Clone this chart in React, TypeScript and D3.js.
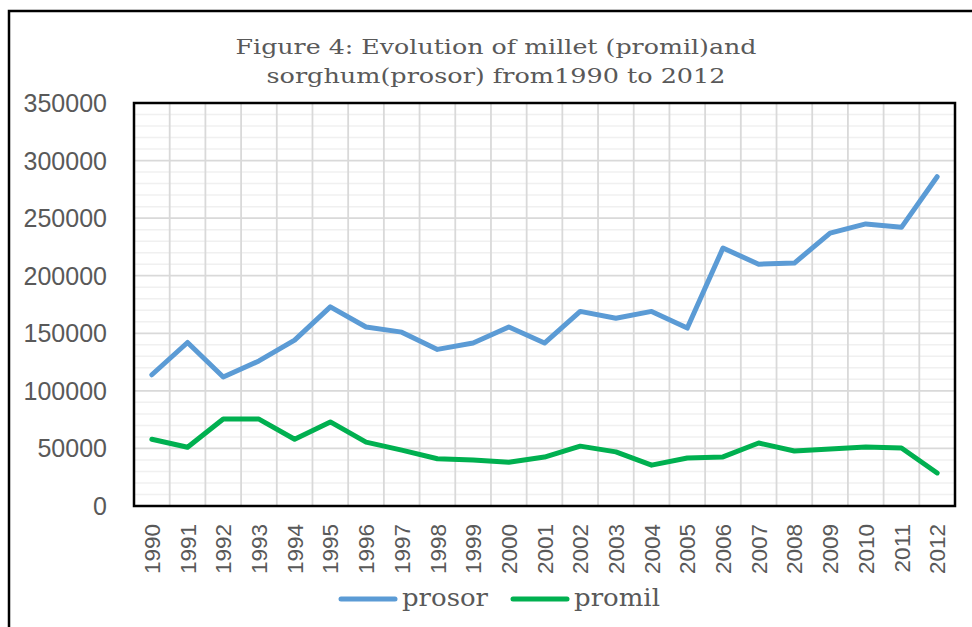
import { useEffect, useRef } from 'react'
import * as d3 from 'd3'

const years = [
  '1990', '1991', '1992', '1993', '1994', '1995', '1996', '1997', '1998', '1999', '2000', '2001',
  '2002', '2003', '2004', '2005', '2006', '2007', '2008', '2009', '2010', '2011', '2012',
]
const prosor = [
  114000, 142000, 112000, 126000, 144000, 173000, 155500, 151000, 136000, 141500, 155500, 141500,
  169000, 163000, 169000, 154500, 224000, 210000, 211000, 237000, 245000, 242000, 286000,
]
const promil = [
  58000, 51000, 75500, 75500, 58000, 73000, 55500, 48500, 41000, 40000, 38000, 42500,
  52000, 47000, 35500, 41700, 42600, 54700, 47800, 49500, 51200, 50400, 28700,
]
const yTicks = [0, 50000, 100000, 150000, 200000, 250000, 300000, 350000]
const titleLines = ['Figure 4: Evolution of millet (promil)and', 'sorghum(prosor) from1990 to 2012']

const App = () => {
  const ref = useRef<SVGSVGElement>(null)

  useEffect(() => {
    const w = 972
    const h = 627
    const left = 134, right = 955, top = 103, bottom = 506
    const svg = d3.select(ref.current).attr('width', w).attr('height', h)
    svg.selectAll('*').remove()

    svg.append('rect').attr('width', w).attr('height', h).attr('fill', '#fff')
    // outer frame
    svg.append('rect')
      .attr('x', 9).attr('y', 11).attr('width', w).attr('height', h)
      .attr('fill', 'none').attr('stroke', '#000').attr('stroke-width', 2.5)

    const x = d3.scaleBand().domain(years).range([left, right]).padding(0)
    const y = d3.scaleLinear().domain([0, 350000]).range([bottom, top])

    // minor grid
    svg.append('g').selectAll('line')
      .data(d3.range(0, 350001, 10000).filter(v => v % 50000 !== 0))
      .join('line')
      .attr('x1', left).attr('x2', right)
      .attr('y1', d => y(d)).attr('y2', d => y(d))
      .attr('stroke', '#f0f0f0').attr('stroke-width', 1.5)

    // major grid
    svg.append('g').selectAll('line')
      .data(yTicks)
      .join('line')
      .attr('x1', left).attr('x2', right)
      .attr('y1', d => y(d)).attr('y2', d => y(d))
      .attr('stroke', '#d9d9d9').attr('stroke-width', 1.8)

    // vertical grid at category boundaries
    svg.append('g').selectAll('line')
      .data(years.slice(1))
      .join('line')
      .attr('x1', d => x(d)!).attr('x2', d => x(d)!)
      .attr('y1', top).attr('y2', bottom)
      .attr('stroke', '#d9d9d9').attr('stroke-width', 1.8)

    // plot border
    svg.append('rect')
      .attr('x', left).attr('y', top).attr('width', right - left).attr('height', bottom - top)
      .attr('fill', 'none').attr('stroke', '#000').attr('stroke-width', 2.5)

    // y labels
    svg.append('g').selectAll('text')
      .data(yTicks)
      .join('text')
      .attr('x', 107).attr('y', d => y(d))
      .attr('dy', '0.36em')
      .attr('text-anchor', 'end')
      .attr('font-family', 'Liberation Sans, Arial, sans-serif')
      .attr('font-size', 25)
      .attr('fill', '#595959')
      .text(d => String(d))

    // x labels
    svg.append('g').selectAll('text')
      .data(years)
      .join('text')
      .attr('transform', d => `translate(${x(d)! + x.bandwidth() / 2}, 524) rotate(-90)`)
      .attr('dy', '0.36em')
      .attr('text-anchor', 'end')
      .attr('font-family', 'Liberation Sans, Arial, sans-serif')
      .attr('font-size', 22.5)
      .attr('fill', '#595959')
      .text(d => d)

    const line = d3.line<number>()
      .x((_, i) => x(years[i])! + x.bandwidth() / 2)
      .y(d => y(d))

    svg.append('path').datum(prosor).attr('d', line)
      .attr('fill', 'none').attr('stroke', '#5b9bd5').attr('stroke-width', 5)
      .attr('stroke-linecap', 'round').attr('stroke-linejoin', 'round')
    svg.append('path').datum(promil).attr('d', line)
      .attr('fill', 'none').attr('stroke', '#00b050').attr('stroke-width', 5)
      .attr('stroke-linecap', 'round').attr('stroke-linejoin', 'round')

    // title
    svg.append('g').selectAll('text')
      .data(titleLines)
      .join('text')
      .attr('x', 496).attr('y', (_, i) => 47 + i * 29)
      .attr('dy', '0.35em')
      .attr('text-anchor', 'middle')
      .attr('font-family', 'DejaVu Serif, serif')
      .attr('font-size', 21)
      .attr('fill', '#595959')
      .attr('textLength', (_, i) => (i === 0 ? 521 : 459))
      .attr('lengthAdjust', 'spacingAndGlyphs')
      .text(d => d)

    // legend
    const legend = [
      { name: 'prosor', color: '#5b9bd5', x0: 341 },
      { name: 'promil', color: '#00b050', x0: 513 },
    ]
    const lg = svg.append('g')
    lg.selectAll('line')
      .data(legend)
      .join('line')
      .attr('x1', d => d.x0).attr('x2', d => d.x0 + 54)
      .attr('y1', 599).attr('y2', 599)
      .attr('stroke', d => d.color).attr('stroke-width', 5)
      .attr('stroke-linecap', 'round')
    lg.selectAll('text')
      .data(legend)
      .join('text')
      .attr('x', d => d.x0 + 61).attr('y', 599)
      .attr('dy', '0.3em')
      .attr('font-family', 'DejaVu Serif, serif')
      .attr('font-size', 24)
      .attr('fill', '#595959')
      .attr('textLength', 86)
      .attr('lengthAdjust', 'spacingAndGlyphs')
      .text(d => d.name)
  }, [])

  return (
    <div style={{ position: 'absolute', left: 0, top: 0 }}>
      <svg ref={ref} style={{ display: 'block' }}></svg>
    </div>
  )
}

export default App
